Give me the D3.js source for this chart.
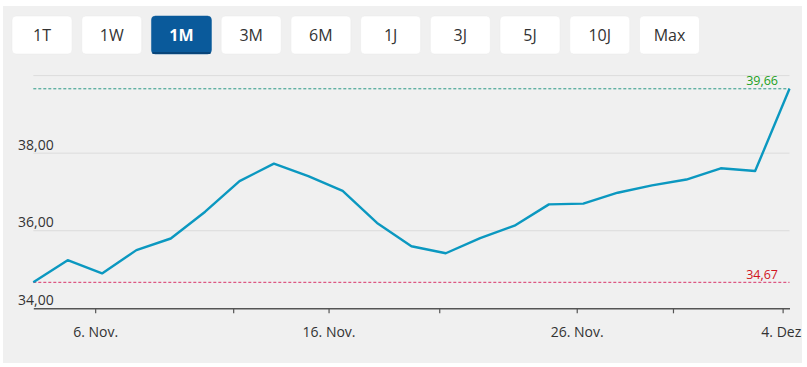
<!DOCTYPE html>
<html>
<head>
<meta charset="utf-8">
<script src="https://cdn.jsdelivr.net/npm/d3@7"></script>
<style>
  html, body { margin: 0; padding: 0; background: #ffffff; }
  svg { display: block; }
  text { font-family: "Open Sans", "Noto Sans", sans-serif; }
</style>
</head>
<body>
<svg id="chart" width="807" height="367"></svg>
<script>
// ---- data ----
const dates = ["04.11.","05.11.","06.11.","07.11.","08.11.","11.11.","12.11.","13.11.","14.11.","15.11.",
               "18.11.","19.11.","20.11.","21.11.","22.11.","25.11.","26.11.","27.11.","28.11.","29.11.",
               "02.12.","03.12.","04.12."];
const prices = [34.67, 35.24, 34.90, 35.50, 35.80, 36.49, 37.28, 37.73, 37.41, 37.03,
                36.20, 35.60, 35.42, 35.81, 36.13, 36.68, 36.70, 36.98, 37.17, 37.32,
                37.61, 37.54, 39.66];
const xTickValues = [1.80, 5.815, 8.59, 11.81, 15.81, 18.61, 21.80];
const xTickLabels = ["6. Nov.", "", "16. Nov.", "", "26. Nov.", "", "4. Dez."];
const yGridValues = [34, 36, 38, 40];
const yLabelValues = [34, 36, 38];
const maxValue = 39.66;
const minValue = 34.67;
const ranges = ["1T","1W","1M","3M","6M","1J","3J","5J","10J","Max"];
const selectedRange = "1M";

// ---- layout ----
const svg = d3.select("#chart");
const fmt = v => d3.format(".2f")(v).replace(".", ",");

svg.append("defs").append("clipPath").attr("id","panelClip")
  .append("rect").attr("x",3).attr("y",6).attr("width",799).attr("height",357);

const panel = svg.append("g").attr("clip-path","url(#panelClip)");
panel.append("rect").attr("x",3).attr("y",6).attr("width",799).attr("height",357).attr("fill","#f0f0f0");

// buttons
const bx = d3.scaleBand().domain(ranges).range([12, 699.5]).paddingInner(0.139).paddingOuter(0);
const btn = panel.selectAll("g.btn").data(ranges).join("g").attr("class","btn")
  .attr("transform", d => `translate(${bx(d)},16)`);
btn.append("rect").attr("width", bx.bandwidth()).attr("height",38).attr("rx",4)
  .attr("fill", d => d === selectedRange ? "#0a5a9b" : "#ffffff")
  .attr("stroke", d => d === selectedRange ? "#0a5a9b" : "#e8e8e8").attr("stroke-width",0.5);
btn.filter(d => d === selectedRange).append("rect")
  .attr("x",1).attr("y",36).attr("width", bx.bandwidth()-2).attr("height",2).attr("fill","#08457a");
btn.append("text").attr("x", bx.bandwidth()/2).attr("y", 24.5).attr("text-anchor","middle")
  .attr("font-size", 16)
  .attr("font-weight", d => d === selectedRange ? 700 : 400)
  .attr("fill", d => d === selectedRange ? "#ffffff" : "#333333")
  .text(d => d);

// scales
const x = d3.scaleLinear().domain([0, dates.length - 1]).range([33.3, 789.5]);
const y = d3.scaleLinear().domain([34, 40]).range([308.3, 75.6]);

// grid
panel.append("g").selectAll("line").data(yGridValues.filter(v => v !== 34)).join("line")
  .attr("x1", x(0)).attr("x2", x(dates.length - 1))
  .attr("y1", d => y(d)).attr("y2", d => y(d))
  .attr("stroke", "#dcdcdc").attr("stroke-width", 1);

// y labels
panel.append("g").selectAll("text").data(yLabelValues).join("text")
  .attr("x", 18).attr("y", d => y(d) - 3.5)
  .attr("font-size", 14).attr("fill", "#333333")
  .text(d => fmt(d));

// max / min dashed lines
const refs = [
  {v: maxValue, line: "#2a9a86", text: "#22a022"},
  {v: minValue, line: "#d9336a", text: "#d0141e"}
];
const rg = panel.append("g").selectAll("g").data(refs).join("g");
rg.append("line").attr("x1", x(0)).attr("x2", x(dates.length - 1))
  .attr("y1", d => y(d.v)).attr("y2", d => y(d.v))
  .attr("stroke", d => d.line).attr("stroke-width", 1).attr("stroke-dasharray", "3,2");
rg.append("text").attr("x", 778).attr("y", d => y(d.v) - 3.5).attr("text-anchor","end")
  .attr("font-size", 12.5).attr("fill", d => d.text).text(d => fmt(d.v));

// x axis
const xAxis = d3.axisBottom(x).tickValues(xTickValues)
  .tickFormat((d, i) => xTickLabels[i]).tickSize(5).tickSizeOuter(0).tickPadding(14);
const gx = panel.append("g").attr("transform", `translate(0,${y(34)})`).call(xAxis);
gx.select(".domain").attr("stroke", "#555555").attr("stroke-width", 1.5);
gx.selectAll(".tick line").attr("stroke", "#555555").attr("stroke-width", 1.2);
gx.selectAll(".tick text").attr("font-size", 14).attr("fill", "#333333")
  .attr("font-family", '"Open Sans", "Noto Sans", sans-serif');

// price line
const line = d3.line().x((d, i) => x(i)).y(d => y(d));
panel.append("path").datum(prices).attr("d", line)
  .attr("fill", "none").attr("stroke", "#0b98c0").attr("stroke-width", 2.4)
  .attr("stroke-linejoin", "round");
</script>
</body>
</html>
